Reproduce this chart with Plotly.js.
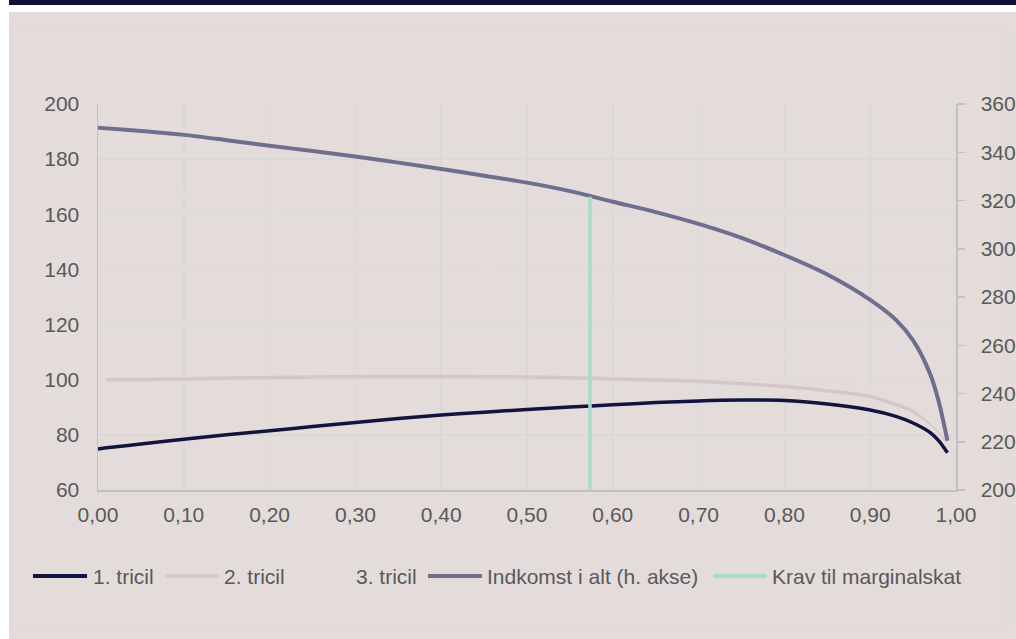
<!DOCTYPE html>
<html>
<head>
<meta charset="utf-8">
<script src="https://cdn.plot.ly/plotly-3.0.1.min.js"></script>
<style>
  html, body { margin: 0; padding: 0; background: #ffffff; }
  #chart { width: 1016px; height: 639px; }
</style>
</head>
<body>
<div id="chart"></div>
<script>
// ---- data ----
const xShare = [0.00, 0.01, 0.05, 0.10, 0.15, 0.20, 0.25, 0.30, 0.35, 0.40, 0.45, 0.50, 0.55, 0.60, 0.65, 0.70, 0.75, 0.80, 0.85, 0.90, 0.93, 0.95, 0.97, 0.98, 0.99];
const tricil1 = [74.9, 75.3, 76.7, 78.4, 80.0, 81.5, 83.0, 84.5, 85.9, 87.2, 88.2, 89.2, 90.1, 90.9, 91.7, 92.3, 92.6, 92.5, 91.2, 89.0, 86.7, 84.3, 80.8, 77.8, 73.5];
const tricil2 = [null, 100.0, 100.1, 100.3, 100.6, 100.8, 101.0, 101.1, 101.2, 101.2, 101.1, 101.0, 100.7, 100.3, 99.9, 99.4, 98.6, 97.5, 96.0, 93.9, 91.0, 88.5, 84.2, 81.5, 77.5];
const tricil3 = [175.0, 174.2, 171.4, 167.7, 163.9, 160.0, 156.3, 152.5, 148.5, 144.5, 140.3, 136.0, 131.9, 127.8, 123.5, 119.0, 114.5, 109.7, 104.3, 98.0, 93.5, 90.0, 85.0, 82.0, 78.0];
const indkomst = [350.2, 349.9, 348.8, 347.2, 345.0, 342.7, 340.5, 338.2, 335.7, 333.1, 330.3, 327.4, 323.9, 319.5, 315.2, 310.3, 304.5, 297.4, 289.3, 278.8, 270.5, 262.0, 248.0, 236.5, 220.5];
const kravX = [0.5734, 0.5734];
const kravY = [200, 321.6];
const seriesNames = ['1. tricil', '2. tricil', '3. tricil', 'Indkomst i alt (h. akse)', 'Krav til marginalskat'];
const leftTicks = [60, 80, 100, 120, 140, 160, 180, 200];
const rightTicks = [200, 220, 240, 260, 280, 300, 320, 340, 360];
const xTicks = [0, 0.1, 0.2, 0.3, 0.4, 0.5, 0.6, 0.7, 0.8, 0.9, 1.0];

// ---- style ----
const PANEL = '#e3dcdb';
const colors = ['#131340', '#d4c8c6', PANEL, '#6e6e8e', '#a9dcc8'];
const widths = [3.5, 3.5, 3, 4, 3.5];
const FONT = 'Liberation Sans, Arial, sans-serif';
const TXT = '#595959';

const traces = [
  {x: xShare, y: tricil1, name: seriesNames[0], yaxis: 'y'},
  {x: xShare, y: tricil2, name: seriesNames[1], yaxis: 'y'},
  {x: xShare, y: tricil3, name: seriesNames[2], yaxis: 'y'},
  {x: xShare, y: indkomst, name: seriesNames[3], yaxis: 'y2'},
  {x: kravX, y: kravY, name: seriesNames[4], yaxis: 'y2'}
].map((t, i) => Object.assign(t, {
  type: 'scatter', mode: 'lines', connectgaps: false,
  line: {color: colors[i], width: widths[i], shape: i < 4 ? 'spline' : 'linear', smoothing: 0.8},
  hoverinfo: 'skip'
}));

// plot area in px: x 98..956, y 104..490
const L = 98, R = 956, T = 104, B = 490;
const px2x = p => (p - L) / (R - L);
const px2y = p => (B - p) / (B - T);

const shapes = [
  {type: 'rect', xref: 'paper', yref: 'paper', layer: 'below',
   x0: px2x(9), x1: px2x(1016), y0: px2y(639), y1: px2y(12),
   fillcolor: PANEL, line: {width: 0}},
  {type: 'rect', xref: 'paper', yref: 'paper', layer: 'below',
   x0: px2x(10), x1: px2x(1008), y0: px2y(626), y1: px2y(28),
   fillcolor: 'rgba(0,0,0,0)', line: {color: '#d9d9d9', width: 1.2}},
  {type: 'rect', xref: 'paper', yref: 'paper', layer: 'below',
   x0: px2x(9), x1: px2x(1016), y0: px2y(5), y1: px2y(-2),
   fillcolor: '#12123a', line: {width: 0}}
];

const annotations = [];
const legLine = [[33, 87], [165, 219], [300, 354], [428, 482], [713, 767]];
const legText = [92, 223, 355, 486, 771];
const legY = 576;
seriesNames.forEach((n, i) => {
  shapes.push({type: 'line', xref: 'paper', yref: 'paper', layer: 'above',
    x0: px2x(legLine[i][0]), x1: px2x(legLine[i][1]), y0: px2y(legY), y1: px2y(legY),
    line: {color: colors[i], width: 4}});
  annotations.push({xref: 'paper', yref: 'paper', x: px2x(legText[i] - 1), y: px2y(legY),
    xanchor: 'left', yanchor: 'middle', showarrow: false, text: n,
    font: {family: FONT, size: 21, color: TXT}});
});

const layout = {
  width: 1016, height: 639,
  margin: {l: L, r: 1016 - R, t: T, b: 639 - B, pad: 0},
  paper_bgcolor: '#ffffff', plot_bgcolor: 'rgba(0,0,0,0)',
  separators: ', ',
  showlegend: false,
  font: {family: FONT, size: 21, color: TXT},
  xaxis: {range: [0, 1], tickvals: xTicks, tickformat: '.2f', showgrid: true,
    gridcolor: '#d9d9d9', gridwidth: 1.5, zeroline: false, showline: true,
    linecolor: '#c0c0c0', linewidth: 1.5, ticks: '', ticklabelstandoff: 5,
    tickfont: {family: FONT, size: 21, color: TXT}, fixedrange: true},
  yaxis: {range: [60, 200], tickvals: leftTicks, showgrid: true, gridcolor: '#d9d9d9',
    gridwidth: 1.5, zeroline: false, showline: true, linecolor: '#c0c0c0', linewidth: 1.5,
    ticks: '', ticklabelstandoff: 13, tickfont: {family: FONT, size: 21, color: TXT}, fixedrange: true},
  yaxis2: {range: [200, 360], tickvals: rightTicks, overlaying: 'y', side: 'right',
    showgrid: false, zeroline: false, showline: true, linecolor: '#c0c0c0', linewidth: 1.5,
    ticks: 'outside', ticklen: 7, tickwidth: 1.5, tickcolor: '#c0c0c0', ticklabelstandoff: 12,
    tickfont: {family: FONT, size: 21, color: TXT}, fixedrange: true},
  shapes: shapes,
  annotations: annotations
};

Plotly.newPlot('chart', traces, layout, {displayModeBar: false, staticPlot: true});
</script>
</body>
</html>
